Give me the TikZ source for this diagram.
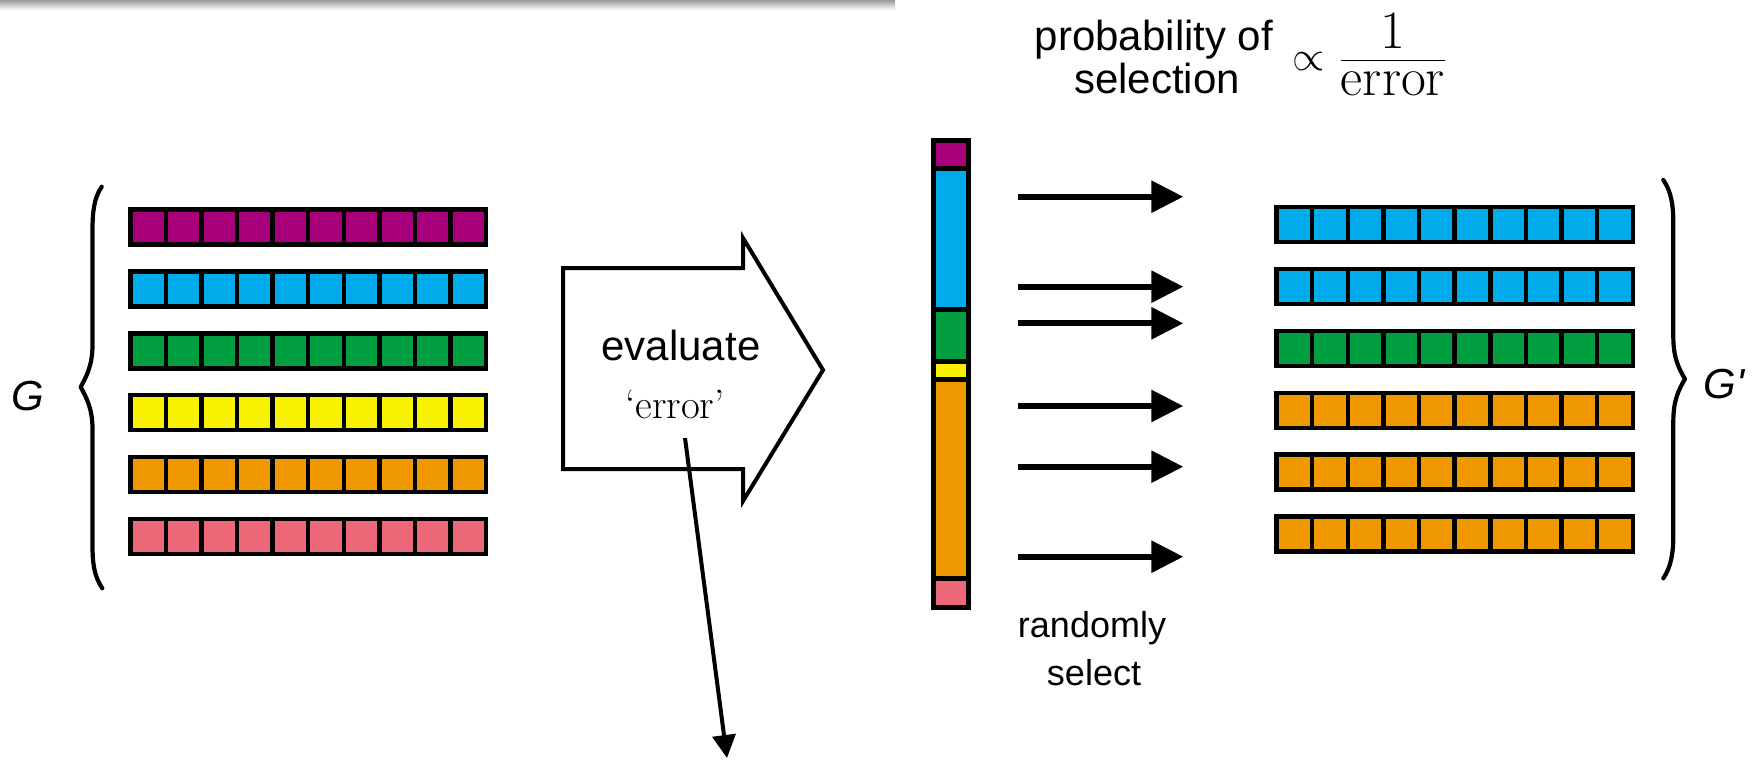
\documentclass[tikz,border=0pt]{standalone}
\usepackage{fontspec}
\setsansfont{Liberation Sans}
\usetikzlibrary{arrows.meta}
\definecolor{cmag}{RGB}{168,0,122}
\definecolor{cblue}{RGB}{0,170,235}
\definecolor{cgreen}{RGB}{0,158,62}
\definecolor{cyellow}{RGB}{248,242,0}
\definecolor{corange}{RGB}{240,152,0}
\definecolor{cpink}{RGB}{236,104,120}
\begin{document}
\begin{tikzpicture}[x=0.5pt,y=-0.5pt,
  cell/.style={draw=black,line width=2.25pt},
  barseg/.style={draw=black,line width=2.5pt},
  lbl/.style={font=\sffamily\fontsize{21}{24}\selectfont,inner sep=0pt},
  lbls/.style={font=\sffamily\fontsize{18}{22}\selectfont,inner sep=0pt},
  sel/.style={line width=3pt,-{Triangle[length=16pt,width=15.5pt]}},
  thinarrow/.style={line width=2pt,-{Triangle[length=11.5pt,width=11.5pt]}},
  bracepath/.style={line width=2.1pt,line cap=round,line join=round}]
\useasboundingbox (0,0) rectangle (1760,762);
% top shadow strip
\shade[top color=black!40,bottom color=white] (0,0) rectangle (895,10);
% left population
\foreach \c [count=\r from 0] in {cmag,cblue,cgreen,cyellow,corange,cpink}{
  \foreach \i in {0,...,9}
    \draw[cell,fill=\c] (130.4+\i*35.56,209.5+\r*61.9) rectangle ++(35.56,35);
}
% right population
\foreach \c [count=\r from 0] in {cblue,cblue,cgreen,corange,corange,corange}{
  \foreach \i in {0,...,9}
    \draw[cell,fill=\c] (1276.5+\i*35.63,207.2+\r*61.86) rectangle ++(35.63,35);
}
% braces
\draw[bracepath] (101.7,186.7) .. controls (94,198) and (92.5,212) .. (92.5,230)
  -- (92.5,345) .. controls (92.5,366) and (86,377) .. (80.7,387)
  .. controls (86,397) and (92.5,408) .. (92.5,429)
  -- (92.5,545) .. controls (92.5,563) and (94,576) .. (102.3,588.3);
\draw[bracepath] (1663.3,180) .. controls (1671,191) and (1673.3,205) .. (1673.3,222)
  -- (1673.3,337) .. controls (1673.3,358) and (1679,369) .. (1685,379)
  .. controls (1679,389) and (1673.3,400) .. (1673.3,421)
  -- (1673.3,536) .. controls (1673.3,553) and (1671,567) .. (1663.3,578.3);
\node[lbl,anchor=base] (G) at (28,410) {\itshape G};
\node[lbl,anchor=base] (Gp) at (1724,398) {\itshape G\textquotesingle};
% big arrow
\draw[line width=2pt,line join=miter] (563,268) -- (743,268) -- (743,238) -- (823,370)
  -- (743,501) -- (743,469) -- (563,469) -- cycle;
\node[lbl,anchor=base] (evaltxt) at (681,360) {evaluate};
\node[anchor=base,inner sep=0pt,font=\fontsize{20.5}{24}\selectfont] (errtxt) at (675,418) {`error'};
\coordinate (errstart) at (685,438);
\coordinate (errend) at (727,758);
\draw[thinarrow] (errstart) -- (errend);
% roulette bar
\draw[barseg,fill=cmag] (933.2,140.7) rectangle (968.2,168.3);
\draw[barseg,fill=cblue] (933.2,168.3) rectangle (968.2,309.9);
\draw[barseg,fill=cgreen] (933.2,309.9) rectangle (968.2,361.8);
\draw[barseg,fill=cyellow] (933.2,361.8) rectangle (968.2,379.8);
\draw[barseg,fill=corange] (933.2,379.8) rectangle (968.2,578.3);
\draw[barseg,fill=cpink] (933.2,578.3) rectangle (968.2,607.7);
% selection arrows
\foreach \y [count=\k] in {196.7,286.7,323.3,406,466.7,556.7}{
  \coordinate (s\k) at (1018.3,\y);
  \coordinate (e\k) at (1183.3,\y);
  \draw[sel] (s\k) -- (e\k);
}
\node[lbls,anchor=base] (rand1) at (1092,637) {randomly};
\node[lbls,anchor=base] (rand2) at (1094,685) {select};
% probability label
\node[lbl,anchor=base] (prob1) at (1154,50) {probability of};
\node[lbl,anchor=base] (prob2) at (1157,93) {selection};
\node[inner sep=0pt,font=\fontsize{21}{24}\selectfont] (prop) at (1309,62) {$\propto$};
\node[inner sep=0pt,anchor=base,font=\fontsize{27}{30}\selectfont] (frac) at (1393,72.5)
  {$\frac{\raisebox{2pt}{1}}{\raisebox{-3pt}{error}}$};
\end{tikzpicture}
\end{document}
